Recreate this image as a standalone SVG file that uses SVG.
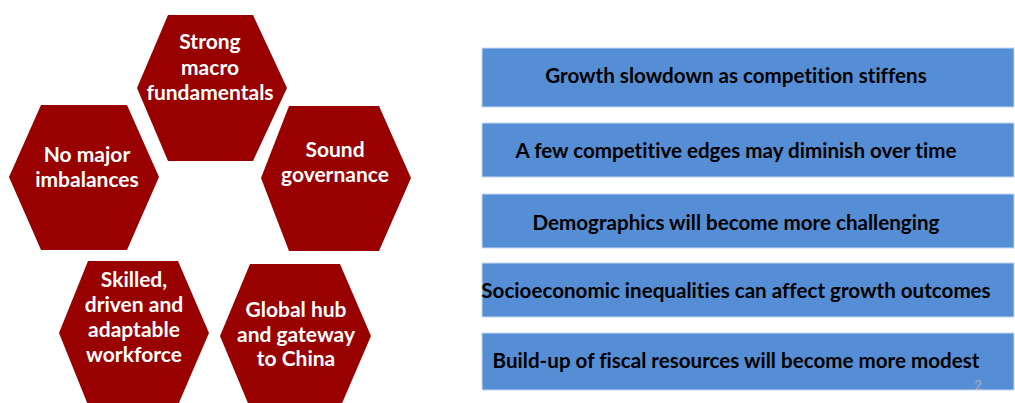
<svg xmlns="http://www.w3.org/2000/svg" width="1015" height="403" viewBox="0 0 1015 403">
<style>
.hex{fill:#990000;}
.ht{font-family:Lato,"Open Sans","Liberation Sans",sans-serif;font-weight:bold;font-size:21px;fill:#ffffff;text-anchor:middle;font-variant-ligatures:none;}
.box{fill:#558ED5;stroke:#c6d9f1;stroke-width:1;}
.bt{font-family:Lato,"Open Sans","Liberation Sans",sans-serif;font-weight:bold;font-size:20.6px;fill:#000000;text-anchor:middle;font-variant-ligatures:none;}
.pg{font-family:Lato,"Liberation Sans",sans-serif;font-size:13px;fill:#b0b0b0;text-anchor:middle;}
</style>
<rect width="1015" height="403" fill="#ffffff"/>
<g id="hex-strong">
<polygon class="hex" points="168,15 253,15 287,88 253,161 168,161 137,88"/>
<text class="ht" x="210" y="49">Strong</text>
<text class="ht" x="210" y="75">macro</text>
<text class="ht" x="210" y="100">fundamentals</text>
</g>
<g id="hex-imbalances">
<polygon class="hex" points="41,105 127,105 159,177 127,250 41,250 9,177"/>
<text class="ht" x="87" y="162">No major</text>
<text class="ht" x="87" y="187">imbalances</text>
</g>
<g id="hex-governance">
<polygon class="hex" points="289,106 379,106 411,178 379,251 289,251 261,178"/>
<text class="ht" x="335" y="157">Sound</text>
<text class="ht" x="335" y="182">governance</text>
</g>
<g id="hex-workforce">
<polygon class="hex" points="88,261 178,261 209,333 178,405 88,405 59,333"/>
<text class="ht" x="134" y="287">Skilled,</text>
<text class="ht" x="134" y="312">driven and</text>
<text class="ht" x="134" y="337">adaptable</text>
<text class="ht" x="134" y="362">workforce</text>
</g>
<g id="hex-hub">
<polygon class="hex" points="250,264 340,264 371,336 340,408 250,408 220,336"/>
<text class="ht" x="296" y="317">Global hub</text>
<text class="ht" x="296" y="342">and gateway</text>
<text class="ht" x="296" y="366">to China</text>
</g>
<g id="box-1">
<rect class="box" x="482" y="48" width="532" height="59"/>
<text class="bt" x="736" y="83">Growth slowdown as competition stiffens</text>
</g>
<g id="box-2">
<rect class="box" x="482" y="123" width="532" height="54"/>
<text class="bt" x="736" y="158">A few competitive edges may diminish over time</text>
</g>
<g id="box-3">
<rect class="box" x="482" y="194" width="532" height="54"/>
<text class="bt" x="736" y="230">Demographics will become more challenging</text>
</g>
<g id="box-4">
<rect class="box" x="482" y="263" width="532" height="54"/>
<text class="bt" x="736" y="298">Socioeconomic inequalities can affect growth outcomes</text>
</g>
<g id="box-5">
<rect class="box" x="482" y="333" width="532" height="57"/>
<text class="bt" x="736" y="368">Build-up of fiscal resources will become more modest</text>
</g>
<g id="connectors"></g>
<text class="pg" x="978" y="390">2</text>
</svg>
